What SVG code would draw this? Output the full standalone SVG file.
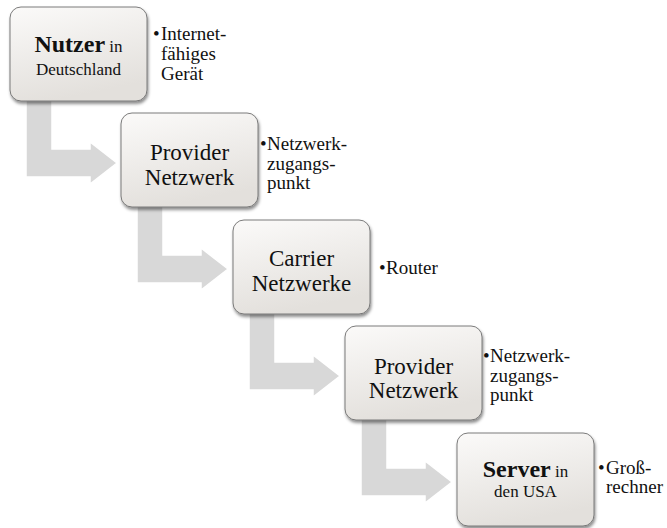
<svg xmlns="http://www.w3.org/2000/svg" xmlns:xlink="http://www.w3.org/1999/xlink" width="667" height="528" viewBox="0 0 667 528">
<defs>
<linearGradient id="boxFill" x1="0" y1="0" x2="0.3" y2="1">
<stop offset="0" stop-color="#fbfaf9"/>
<stop offset="1" stop-color="#e3e0dc"/>
</linearGradient>
<filter id="shadow" x="-10%" y="-10%" width="125%" height="130%">
<feDropShadow dx="1" dy="2.5" stdDeviation="1.6" flood-color="#000" flood-opacity="0.45"/>
</filter>
<path id="arrow" d="M16,90 L42,90 L42,142 L80,142 L80,135 L107,156 L80,177 L80,170 L16,170 Z"/>
</defs>
<style>
.box{fill:url(#boxFill);stroke:#6e6e6e;stroke-width:0.9;filter:url(#shadow)}
.arr{fill:#d8d8d8;stroke:#ffffff;stroke-width:1.5;stroke-linejoin:miter}
.main{font-family:"Liberation Serif","Times New Roman",serif;font-size:23px;fill:#111;text-anchor:middle}
.bold{font-weight:bold;font-size:24px}
.small{font-size:17px}
.bul{font-family:"Liberation Serif","Times New Roman",serif;font-size:19px;fill:#111}
</style>
<rect width="667" height="528" fill="#ffffff"/>
<g id="connectors">
<use xlink:href="#arrow" class="arr" transform="translate(10,7)"/>
<use xlink:href="#arrow" class="arr" transform="translate(121,113)"/>
<use xlink:href="#arrow" class="arr" transform="translate(233,220)"/>
<use xlink:href="#arrow" class="arr" transform="translate(345,326)"/>
</g>
<g id="node1">
<rect class="box" x="10" y="7" width="137" height="94" rx="11"/>
<text class="main" x="78.5" y="52"><tspan class="bold">Nutzer</tspan><tspan class="small"> in</tspan></text>
<text class="main small" x="78.5" y="75">Deutschland</text>
<text class="bul" x="153" y="40">•</text>
<text class="bul" x="161" y="40">Internet-</text>
<text class="bul" x="161" y="60">fähiges</text>
<text class="bul" x="161" y="80">Gerät</text>
</g>
<g id="node2">
<rect class="box" x="121" y="113" width="137" height="94" rx="11"/>
<text class="main" x="189.5" y="160">Provider</text>
<text class="main" x="189.5" y="185">Netzwerk</text>
<text class="bul" x="260" y="150">•</text>
<text class="bul" x="267" y="150">Netzwerk-</text>
<text class="bul" x="267" y="170">zugangs-</text>
<text class="bul" x="267" y="189">punkt</text>
</g>
<g id="node3">
<rect class="box" x="233" y="220" width="137" height="94" rx="11"/>
<text class="main" x="301.5" y="266">Carrier</text>
<text class="main" x="301.5" y="291">Netzwerke</text>
<text class="bul" x="379" y="274">•</text>
<text class="bul" x="386" y="274">Router</text>
</g>
<g id="node4">
<rect class="box" x="345" y="326" width="137" height="94" rx="11"/>
<text class="main" x="413.5" y="374">Provider</text>
<text class="main" x="413.5" y="398">Netzwerk</text>
<text class="bul" x="483" y="362">•</text>
<text class="bul" x="490" y="362">Netzwerk-</text>
<text class="bul" x="490" y="382">zugangs-</text>
<text class="bul" x="490" y="401">punkt</text>
</g>
<g id="node5">
<rect class="box" x="457" y="433" width="137" height="93" rx="11"/>
<text class="main" x="525.5" y="477"><tspan class="bold">Server</tspan><tspan class="small"> in</tspan></text>
<text class="main small" x="525.5" y="497">den USA</text>
<text class="bul" x="598" y="474">•</text>
<text class="bul" x="606" y="474">Groß-</text>
<text class="bul" x="606" y="493">rechner</text>
</g>
</svg>
